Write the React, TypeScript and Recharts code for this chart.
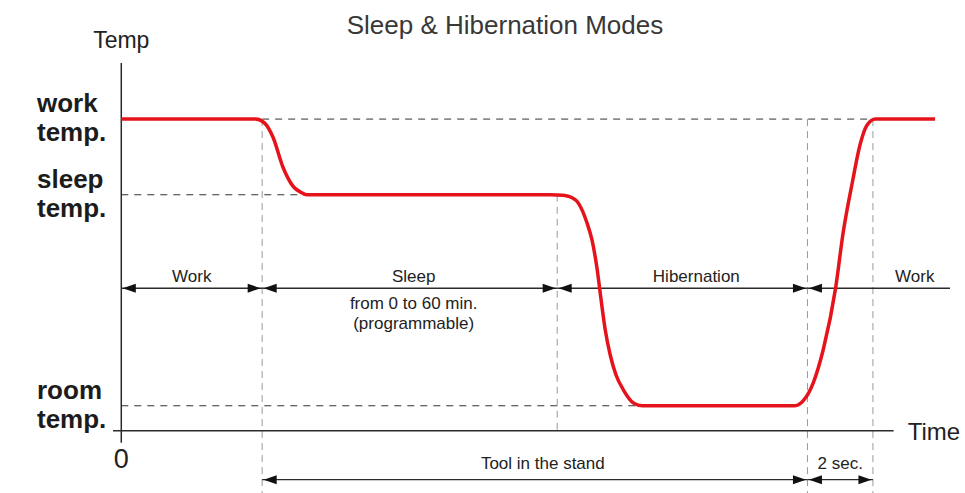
import { ComposedChart, Line, XAxis, YAxis, ReferenceLine } from "recharts";

const TITLE = "Sleep & Hibernation Modes";
const FONT = "'Liberation Sans', Arial, Helvetica, sans-serif";

// temperature levels (arbitrary units, 0 = time axis)
const levelNames = ["work temp.", "sleep temp.", "room temp."];
const levelValues = [350, 265, 28];
const axisTop = 413;
const axisBottom = -70;

// phases along the time axis (0..100)
const phaseNames = ["Work", "Sleep", "Hibernation", "Work"];
const phaseBounds = [0, 17, 52.6, 82.8, 100];
const reheatEnd = 90.7; // work temp reached again
const timeAxisEnd = 93.2;

// where the curve settles on each level
const sleepReached = 22.4;
const roomReached = 62.9;

// red temperature curve
const curveTime = [
  0, 16.2, 17.3, 18.3, 19.5, 20.8, 21.6, 22.4, 51.8, 53.3, 54.8, 56.2, 56.8,
  57.4, 57.9, 58.4, 59.0, 59.7, 60.6, 61.8, 62.9, 81.3, 82.3, 83.5, 84.7, 86.2,
  87.1, 88.2, 89.2, 90.0, 91.0, 98.2,
];
const curveTemp = [
  350, 350, 345.5, 329.8, 296.2, 273.7, 268.2, 265, 265, 264.5, 259.3, 233.3,
  214.2, 182.7, 146.8, 113.1, 85.0, 62.5, 45.6, 31.1, 28, 28, 33.7, 53.8, 90.9,
  160.4, 222.1, 278.2, 323.1, 343.3, 350, 350,
];

// arrow rows
const phaseRowTemp = 160;
const standRowTemp = -55;
const standLabels = ["Tool in the stand", "2 sec."];

const data = curveTime.map((t, i) => ({ t, temp: curveTemp[i] }));

const AXIS = "#2b2b2b";
const DASH_H = "#333";
const DASH_V = "#9a9a9a";
const RED = "#e5141b";

type Opts = {
  above?: string[];
  below?: string[];
  at?: "start" | "middle" | "end";
  vert?: "top" | "bottom";
  anchor?: "start" | "middle" | "end";
  dx?: number;
  dy?: number;
  size?: number;
  gap?: number;
  fill?: string;
};

const textLabel = (o: Opts) => (props: any) => {
  const vb = props.viewBox || { x: 0, y: 0, width: 0, height: 0 };
  const bx =
    o.at === "start" ? vb.x : o.at === "end" ? vb.x + vb.width : vb.x + vb.width / 2;
  const by = o.vert === "bottom" ? vb.y + vb.height : vb.y;
  const x = bx + (o.dx ?? 0);
  const y = by + (o.dy ?? 0);
  const size = o.size ?? 17;
  const gap = o.gap ?? 20;
  const anchor = o.anchor ?? "middle";
  const above = o.above ?? [];
  const below = o.below ?? [];
  return (
    <g>
      {above.map((s, i) => (
        <text
          key={"a" + i}
          x={x}
          y={y - (above.length - 1 - i) * gap}
          textAnchor={anchor}
          fontSize={size}
          fontFamily={FONT}
          fill={o.fill ?? "#222"}
        >
          {s}
        </text>
      ))}
      {below.map((s, i) => (
        <text
          key={"b" + i}
          x={x}
          y={by + 21 + i * gap}
          textAnchor={anchor}
          fontSize={size}
          fontFamily={FONT}
          fill={o.fill ?? "#222"}
        >
          {s}
        </text>
      ))}
    </g>
  );
};

const HEAD_LEN = 13;
const HEAD_W = 4.5;

const arrowShape = (startHead: boolean, endHead: boolean) => (p: any) => {
  const { x1, y1, x2, y2 } = p;
  const dir = x2 >= x1 ? 1 : -1;
  const s = x1 + (startHead ? dir * 1.5 : 0);
  const e = x2 - (endHead ? dir * 1.5 : 0);
  return (
    <g>
      <line x1={x1} y1={y1} x2={x2} y2={y2} stroke={AXIS} strokeWidth={1.4} />
      {startHead && (
        <polygon
          points={`${s},${y1} ${s + dir * HEAD_LEN},${y1 - HEAD_W} ${s + dir * HEAD_LEN},${y1 + HEAD_W}`}
          fill="#111"
        />
      )}
      {endHead && (
        <polygon
          points={`${e},${y2} ${e - dir * HEAD_LEN},${y2 - HEAD_W} ${e - dir * HEAD_LEN},${y2 + HEAD_W}`}
          fill="#111"
        />
      )}
    </g>
  );
};

const LevelTick = (props: any) => {
  const { x, y, payload } = props;
  const i = levelValues.indexOf(payload.value);
  if (i < 0) return null;
  const [a, b] = levelNames[i].split(" ");
  const lx = x - 76;
  return (
    <text fontSize={26} fontWeight={700} fill="#1c1c1c" fontFamily={FONT}>
      <tspan x={lx} y={y - 7}>
        {a}
      </tspan>
      <tspan x={lx} y={y + 22}>
        {b}
      </tspan>
    </text>
  );
};

const phaseLabelShift = [0, 4, 14, 36];

export default function App() {
  const [, wEnd, sEnd, hEnd] = phaseBounds;
  return (
    <div style={{ position: "relative", width: 965, height: 493, background: "#fff" }}>
      <style>{`body{margin:0}`}</style>
      <div
        style={{
          position: "absolute",
          top: 12,
          left: 0,
          width: 1010,
          textAlign: "center",
          fontFamily: FONT,
          fontSize: 26,
          lineHeight: "26px",
          color: "#383838",
        }}
      >
        {TITLE}
      </div>
      <ComposedChart
        width={965}
        height={493}
        data={data}
        margin={{ top: 63, right: 15, bottom: 0, left: 0 }}
      >
        <XAxis dataKey="t" type="number" domain={[-1, 100]} hide />
        <YAxis
          type="number"
          domain={[axisBottom, axisTop]}
          ticks={levelValues}
          width={113}
          axisLine={false}
          tickLine={false}
          tickSize={0}
          tickMargin={0}
          tick={<LevelTick />}
          interval={0}
        />

        {/* horizontal guide lines */}
        <ReferenceLine
          segment={[
            { x: wEnd, y: levelValues[0] },
            { x: reheatEnd, y: levelValues[0] },
          ]}
          stroke={DASH_H}
          strokeDasharray="7 6"
        />
        <ReferenceLine
          segment={[
            { x: 0, y: levelValues[1] },
            { x: sleepReached, y: levelValues[1] },
          ]}
          stroke={DASH_H}
          strokeDasharray="7 6"
        />
        <ReferenceLine
          segment={[
            { x: 0, y: levelValues[2] },
            { x: roomReached, y: levelValues[2] },
          ]}
          stroke={DASH_H}
          strokeDasharray="7 6"
        />

        {/* vertical guide lines */}
        <ReferenceLine
          segment={[
            { x: wEnd, y: levelValues[0] },
            { x: wEnd, y: axisBottom },
          ]}
          stroke={DASH_V}
          strokeDasharray="7 5"
        />
        <ReferenceLine
          segment={[
            { x: sEnd, y: levelValues[1] },
            { x: sEnd, y: 0 },
          ]}
          stroke={DASH_V}
          strokeDasharray="7 5"
        />
        <ReferenceLine
          segment={[
            { x: hEnd, y: levelValues[0] },
            { x: hEnd, y: axisBottom },
          ]}
          stroke={DASH_V}
          strokeDasharray="7 5"
        />
        <ReferenceLine
          segment={[
            { x: reheatEnd, y: levelValues[0] },
            { x: reheatEnd, y: axisBottom },
          ]}
          stroke={DASH_V}
          strokeDasharray="7 5"
        />

        {/* axes */}
        <ReferenceLine
          segment={[
            { x: -1, y: 0 },
            { x: timeAxisEnd, y: 0 },
          ]}
          stroke={AXIS}
          strokeWidth={1.5}
          label={textLabel({ above: ["Time"], at: "end", anchor: "start", dx: 14, dy: 9, size: 24 })}
        />
        <ReferenceLine
          segment={[
            { x: 0, y: -13.5 },
            { x: 0, y: axisTop },
          ]}
          stroke={AXIS}
          strokeWidth={1.5}
          label={textLabel({ above: ["Temp"], at: "middle", dy: -15, size: 23 })}
        />
        <ReferenceLine
          segment={[
            { x: 0, y: -13.5 },
            { x: 0, y: -13.4 },
          ]}
          stroke="none"
          label={textLabel({ above: ["0"], vert: "bottom", dy: 25, size: 27 })}
        />

        {/* phase arrows */}
        {phaseNames.map((name, i) => (
          <ReferenceLine
            key={"ph" + i}
            segment={[
              { x: phaseBounds[i], y: phaseRowTemp },
              { x: phaseBounds[i + 1], y: phaseRowTemp },
            ]}
            shape={arrowShape(true, i < phaseNames.length - 1)}
            label={textLabel({
              above: [name],
              below: i === 1 ? ["from 0 to 60 min.", "(programmable)"] : [],
              dy: -6,
              dx: phaseLabelShift[i],
            })}
          />
        ))}

        {/* tool in the stand / 2 sec */}
        <ReferenceLine
          segment={[
            { x: wEnd, y: standRowTemp },
            { x: hEnd, y: standRowTemp },
          ]}
          shape={arrowShape(true, true)}
          label={textLabel({ above: [standLabels[0]], dy: -11, dx: 8 })}
        />
        <ReferenceLine
          segment={[
            { x: hEnd, y: standRowTemp },
            { x: reheatEnd, y: standRowTemp },
          ]}
          shape={arrowShape(true, true)}
          label={textLabel({ above: [standLabels[1]], dy: -11 })}
        />

        <Line
          dataKey="temp"
          type="monotone"
          stroke={RED}
          strokeWidth={3.5}
          dot={false}
          activeDot={false}
          isAnimationActive={false}
        />
      </ComposedChart>
    </div>
  );
}
